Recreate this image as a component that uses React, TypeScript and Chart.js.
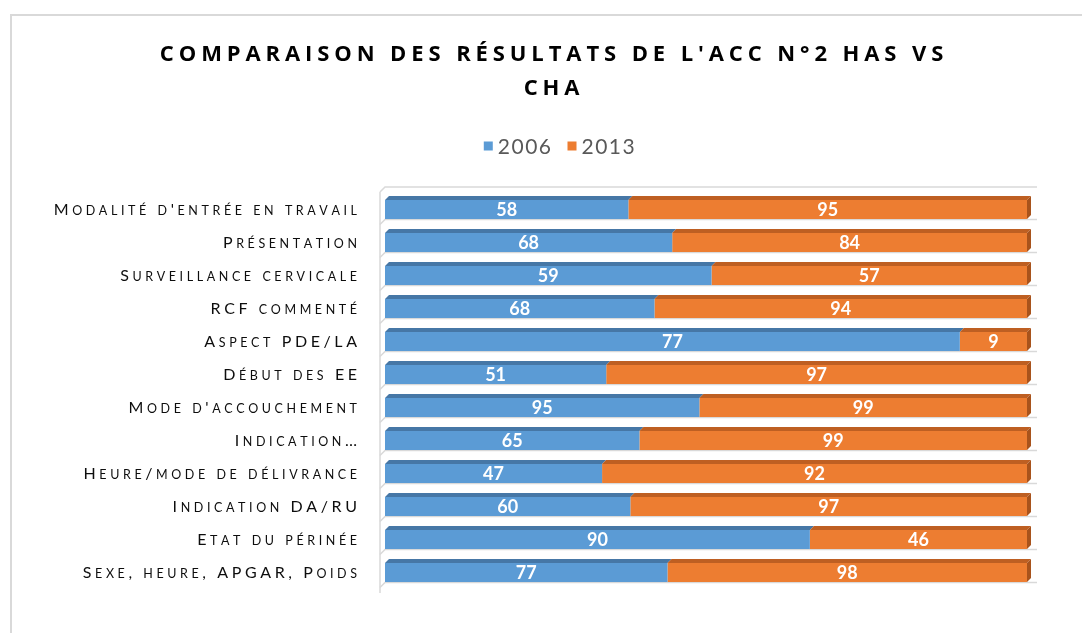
import React, { useEffect, useRef } from "react";
import { Chart, registerables } from "chart.js";

Chart.register(...registerables);

const TITLE_LINES = ["COMPARAISON DES RÉSULTATS DE L'ACC N°2 HAS VS", "CHA"];
const CATEGORIES = [
  "Modalité d'entrée en travail",
  "Présentation",
  "Surveillance cervicale",
  "RCF commenté",
  "Aspect PDE/LA",
  "Début des EE",
  "Mode d'accouchement",
  "Indication…",
  "Heure/mode de délivrance",
  "Indication DA/RU",
  "Etat du périnée",
  "Sexe, heure, APGAR, Poids",
];
const SERIES_NAMES = ["2006", "2013"];
const VALUES_2006 = [58, 68, 59, 68, 77, 51, 95, 65, 47, 60, 90, 77];
const VALUES_2013 = [95, 84, 57, 94, 9, 97, 99, 99, 92, 97, 46, 98];
const COLORS = ["#5B9BD5", "#ED7D31"];
const TOP_COLORS = ["#4677A6", "#BE5F22"];
const SIDE_COLOR = "#A8531C";

const RAW = [VALUES_2006, VALUES_2013];

function drawSmallCaps(
  ctx: CanvasRenderingContext2D,
  text: string,
  xRight: number,
  y: number,
  big: number,
  small: number,
  spacing: number
) {
  const bigFont = `${big}px Lato`;
  const smallFont = `${small}px Lato`;
  const chars = Array.from(text).map((ch) => {
    const isLower = ch !== ch.toUpperCase();
    return { ch: isLower ? ch.toUpperCase() : ch, font: isLower ? smallFont : bigFont };
  });
  const widths = chars.map((c) => {
    ctx.font = c.font;
    return ctx.measureText(c.ch).width;
  });
  const total = widths.reduce((a, b) => a + b, 0) + spacing * (chars.length - 1);
  let x = xRight - total;
  ctx.textAlign = "left";
  ctx.textBaseline = "alphabetic";
  chars.forEach((c, i) => {
    ctx.font = c.font;
    ctx.fillText(c.ch, x, y);
    x += widths[i] + spacing;
  });
}

const decoPlugin = {
  id: "deco",
  beforeDraw(chart: any) {
    const ctx = chart.ctx as CanvasRenderingContext2D;
    const w = chart.width;
    const h = chart.height;
    ctx.save();
    ctx.fillStyle = "#ffffff";
    ctx.fillRect(0, 0, w, h);
    // outer frame
    ctx.strokeStyle = "#d9d9d9";
    ctx.lineWidth = 2;
    ctx.strokeRect(11, 15, w + 50, h + 50);

    // title
    ctx.fillStyle = "#000000";
    ctx.textAlign = "center";
    ctx.textBaseline = "middle";
    ctx.font = 'bold 22px "Open Sans"';
    (ctx as any).letterSpacing = "4.9px";
    ctx.fillText(TITLE_LINES[0], 554, 55);
    ctx.fillText(TITLE_LINES[1], 554, 89);

    // legend
    ctx.font = '21px Lato';
    (ctx as any).letterSpacing = "1.5px";
    ctx.textAlign = "left";
    const box = 9;
    const gapBox = 5;
    const gapItem = 15;
    const widths = SERIES_NAMES.map((s) => ctx.measureText(s).width);
    const total = widths.reduce((a, b) => a + b, 0) + SERIES_NAMES.length * (box + gapBox) + gapItem;
    let x = 560 - total / 2;
    const ly = 147;
    SERIES_NAMES.forEach((s, i) => {
      ctx.fillStyle = COLORS[i];
      ctx.fillRect(x, ly - box / 2 - 1, box, box);
      x += box + gapBox;
      ctx.fillStyle = "#595959";
      ctx.fillText(s, x, ly);
      x += widths[i] + gapItem;
    });
    ctx.restore();
  },
  beforeDatasetsDraw(chart: any) {
    const ctx = chart.ctx as CanvasRenderingContext2D;
    const area = chart.chartArea;
    const meta = chart.getDatasetMeta(0);
    const d = 5;
    ctx.save();
    ctx.strokeStyle = "#d9d9d9";
    ctx.lineWidth = 1.5;
    const firstEl = meta.data[0];
    const lastEl = meta.data[meta.data.length - 1];
    const topY = firstEl.y - firstEl.height / 2 - 13;
    const lastBottom = lastEl.y + lastEl.height / 2;
    ctx.beginPath();
    ctx.moveTo(area.left - d, topY + d);
    ctx.lineTo(area.left, topY);
    ctx.lineTo(area.right + 10, topY);
    ctx.moveTo(area.left - d, topY + d);
    ctx.lineTo(area.left - d, lastBottom + d + 6);
    ctx.stroke();
    meta.data.forEach((el: any) => {
      const bottom = el.y + el.height / 2 + 0.5;
      ctx.beginPath();
      ctx.moveTo(area.left - d, bottom + d);
      ctx.lineTo(area.left, bottom);
      ctx.lineTo(area.right + 10, bottom);
      ctx.stroke();
    });
    ctx.restore();
  },
  afterDatasetsDraw(chart: any) {
    const ctx = chart.ctx as CanvasRenderingContext2D;
    const d = 4;
    ctx.save();
    chart.data.datasets.forEach((_ds: any, di: number) => {
      const meta = chart.getDatasetMeta(di);
      meta.data.forEach((el: any) => {
        const left = Math.min(el.base, el.x);
        const right = Math.max(el.base, el.x);
        const top = el.y - el.height / 2;
        const bottom = el.y + el.height / 2;
        ctx.fillStyle = TOP_COLORS[di];
        ctx.beginPath();
        ctx.moveTo(left, top);
        ctx.lineTo(left + d, top - d);
        ctx.lineTo(right + d, top - d);
        ctx.lineTo(right, top);
        ctx.closePath();
        ctx.fill();
        if (di === chart.data.datasets.length - 1) {
          ctx.fillStyle = SIDE_COLOR;
          ctx.beginPath();
          ctx.moveTo(right, top);
          ctx.lineTo(right + d, top - d);
          ctx.lineTo(right + d, bottom - d);
          ctx.lineTo(right, bottom);
          ctx.closePath();
          ctx.fill();
        }
      });
    });
    // data labels
    ctx.fillStyle = "#ffffff";
    ctx.font = 'bold 18px Lato';
    ctx.textAlign = "center";
    ctx.textBaseline = "middle";
    chart.data.datasets.forEach((_ds: any, di: number) => {
      const meta = chart.getDatasetMeta(di);
      meta.data.forEach((el: any, i: number) => {
        const cx = (el.base + el.x) / 2;
        ctx.fillText(String(RAW[di][i]), cx, el.y + 1);
      });
    });
    ctx.restore();
  },
  afterDraw(chart: any) {
    const ctx = chart.ctx as CanvasRenderingContext2D;
    const yScale = chart.scales.y;
    ctx.save();
    ctx.fillStyle = "#0d0d0d";
    CATEGORIES.forEach((c, i) => {
      const y = yScale.getPixelForValue(i);
      drawSmallCaps(ctx, c, 357, y + 5, 16, 12.5, 3.6);
    });
    ctx.restore();
  },
};

export default function App() {
  const ref = useRef<HTMLCanvasElement | null>(null);
  useEffect(() => {
    if (!ref.current) return;
    const pct = (i: number, s: number) => (RAW[s][i] / (VALUES_2006[i] + VALUES_2013[i])) * 100;
    const chart = new Chart(ref.current, {
      type: "bar",
      data: {
        labels: CATEGORIES,
        datasets: SERIES_NAMES.map((name, s) => ({
          label: name,
          data: CATEGORIES.map((_, i) => pct(i, s)),
          backgroundColor: COLORS[s],
          borderWidth: 0,
          barPercentage: 0.58,
          categoryPercentage: 1,
        })),
      },
      options: {
        indexAxis: "y",
        animation: false,
        responsive: false,
        devicePixelRatio: 1,
        layout: { padding: { left: 385, right: 55, top: 193, bottom: 44 } },
        plugins: {
          legend: { display: false },
          title: { display: false },
          tooltip: { enabled: false },
        },
        scales: {
          x: { stacked: true, min: 0, max: 100, display: false },
          y: { stacked: true, display: false },
        },
      },
      plugins: [decoPlugin],
    });
    return () => chart.destroy();
  }, []);
  return (
    <div style={{ position: "fixed", left: 0, top: 0, width: 1082, height: 633 }}>
      <canvas ref={ref} width={1082} height={633} style={{ width: 1082, height: 633 }} />
    </div>
  );
}
